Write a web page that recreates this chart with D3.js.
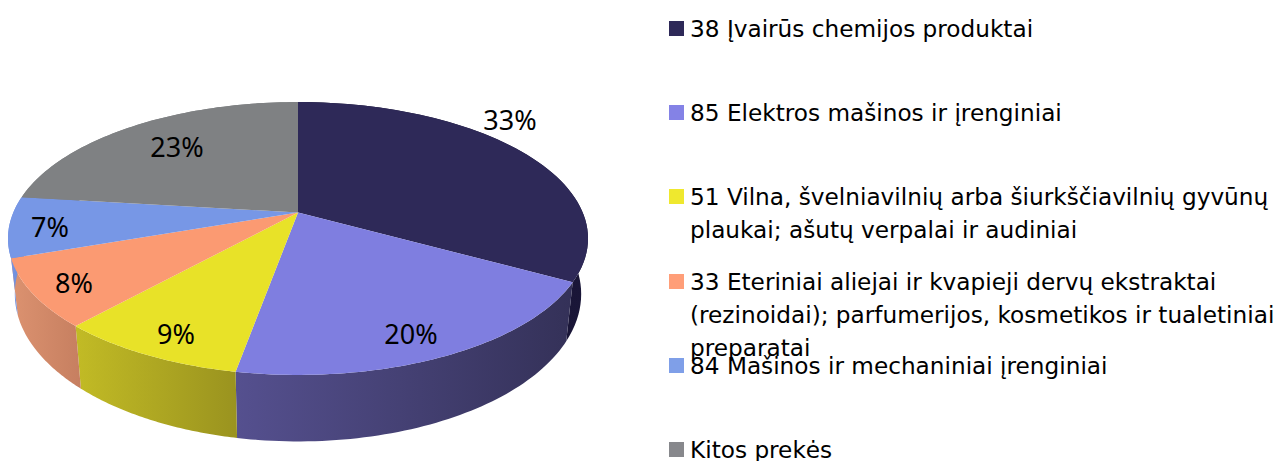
<!DOCTYPE html>
<html><head><meta charset="utf-8">
<style>html,body{margin:0;padding:0;background:#fff;overflow:hidden}svg{display:block}</style>
<script src="https://cdn.jsdelivr.net/npm/d3@7"></script>
</head><body><div id="c"></div>
<script>
const legendLines = [["38 Įvairūs chemijos produktai"],["85 Elektros mašinos ir įrenginiai"],["51 Vilna, švelniavilnių arba šiurkščiavilnių gyvūnų","plaukai; ašutų verpalai ir audiniai"],["33 Eteriniai aliejai ir kvapieji dervų ekstraktai","(rezinoidai); parfumerijos, kosmetikos ir tualetiniai","preparatai"],["84 Mašinos ir mechaniniai įrenginiai"],["Kitos prekės"]];
const values = [33, 19.85, 8.85, 8, 7.2, 23.1];
const topColors = ["#2e2958","#7f7ee0","#e8e228","#fb9a72","#7797e6","#7f8183"];
const wallFrom = ["#15112f","#55508f","#c2bb25","#dc9270","#7797e6","#7f8183"];
const wallTo = ["#1a1638","#343158","#9a931f","#c67f60","#6a86cc","#7f8183"];
const legendColors = ["#2e2958","#8482e6","#efe82e","#ff9e78","#7f9fe8","#87888c"];
const legendSwatchTop = [21,105,189,274,358,442];
const labelPos = [[510,121],[411,335],[176,335],[74,284],[50,228],[177,148]];

const W=1284,H=461;
const svg=d3.select("#c").append("svg").attr("width",W).attr("height",H);
const defs=svg.append("defs");

const p=0.1905;
const project=(a,B,A,y0)=>{const X=Math.sin(a),Y=-Math.cos(a),s=1/(1-p*Y);return [298+B*X*s,y0+A*Y*s];};
const topRim=a=>project(a,284.7,131.5,212.5);
const botRim=a=>project(a,278,142,266);

const arcs=d3.pie().sort(null).value(d=>d)(values);
const samples=(a0,a1)=>d3.range(0,61).map(i=>a0+(a1-a0)*i/60);
const line=d3.line();

const walls=svg.append("g");
arcs.forEach((d,i)=>{
  const pts=samples(d.startAngle,d.endAngle);
  const all=pts.map(topRim).concat(pts.map(botRim).reverse());
  const ext=d3.extent(all,q=>q[0]);
  const id="w"+i;
  const g=defs.append("linearGradient").attr("id",id).attr("gradientUnits","userSpaceOnUse")
    .attr("x1",ext[0]).attr("x2",ext[1]).attr("y1",0).attr("y2",0);
  g.append("stop").attr("offset",0).attr("stop-color",wallFrom[i]);
  g.append("stop").attr("offset",1).attr("stop-color",wallTo[i]);
  walls.append("path").attr("d",line(all)+"Z").attr("fill",`url(#${id})`);
});
const tops=svg.append("g");
arcs.forEach((d,i)=>{
  const pts=samples(d.startAngle,d.endAngle).map(topRim);
  tops.append("path").attr("d",line([[298,212.5],...pts])+"Z").attr("fill",topColors[i]);
});
svg.append("g").selectAll("text").data(arcs).join("text")
  .attr("x",(d,i)=>labelPos[i][0]).attr("y",(d,i)=>labelPos[i][1])
  .attr("dy","0.35em")
  .attr("text-anchor","middle").attr("font-family","'Noto Sans'").attr("font-size",27).attr("fill","#000")
  .text(d=>d3.format(".0f")(d.value)+"%");

const leg=svg.append("g");
legendLines.forEach((ls,i)=>{
  leg.append("rect").attr("x",669).attr("y",legendSwatchTop[i]).attr("width",15).attr("height",15).attr("fill",legendColors[i]);
  ls.forEach((t,j)=>{
    leg.append("text").attr("x",690).attr("y",legendSwatchTop[i]+16+j*33)
      .attr("font-family","'DejaVu Sans'").attr("font-size",23.2).attr("fill","#000").text(t);
  });
});
</script></body></html>
